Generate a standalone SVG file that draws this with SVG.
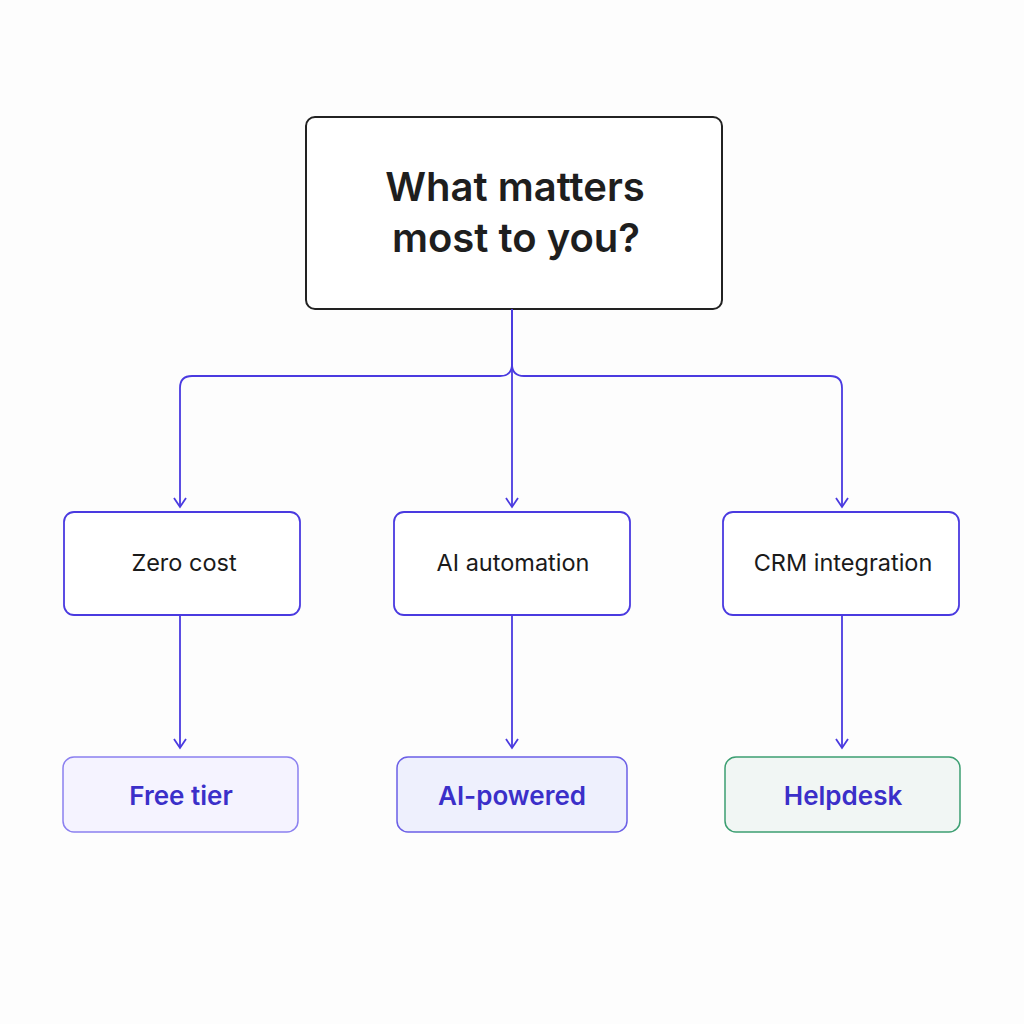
<svg xmlns="http://www.w3.org/2000/svg" width="1024" height="1024" viewBox="0 0 1024 1024">
<defs>
<marker id="arr" markerWidth="14" markerHeight="14" refX="11" refY="7" orient="auto" markerUnits="userSpaceOnUse" viewBox="0 0 14 14">
<path d="M2,1 L11,7 L2,13" fill="none" stroke="#4a3ae0" stroke-width="1.8"/>
</marker>
</defs>
<style>
.conn{fill:none;stroke:#4a3ae0;stroke-width:1.8}
.mid{fill:#ffffff;stroke:#4a3ae0;stroke-width:1.8}
.midt{font-family:Inter,"Liberation Sans",sans-serif;font-size:23.5px;fill:#1a1a1a;text-anchor:middle}
.bott{font-family:Inter,"Liberation Sans",sans-serif;font-size:26px;font-weight:600;fill:#3b2fc9;text-anchor:middle}
</style>
<rect width="1024" height="1024" fill="#fdfdfd"/>
<g id="root">
<rect x="306" y="117" width="416" height="192" rx="9" fill="#ffffff" stroke="#222222" stroke-width="2"/>
<text x="515" y="201" font-family="Inter,'Liberation Sans',sans-serif" font-size="40" font-weight="600" fill="#1e1e1e" text-anchor="middle">What matters</text>
<text x="516" y="252" font-family="Inter,'Liberation Sans',sans-serif" font-size="40" font-weight="600" fill="#1e1e1e" text-anchor="middle">most to you?</text>
</g>
<g id="connectors">
<path class="conn" d="M512,309 V364 Q512,376 500,376 H192 Q180,376 180,388 V507" marker-end="url(#arr)"/>
<path class="conn" d="M512,364 Q512,376 524,376 H830 Q842,376 842,388 V507" marker-end="url(#arr)"/>
<path class="conn" d="M512,309 V507" marker-end="url(#arr)"/>
<path class="conn" d="M180,615 V748" marker-end="url(#arr)"/>
<path class="conn" d="M512,615 V748" marker-end="url(#arr)"/>
<path class="conn" d="M842,615 V748" marker-end="url(#arr)"/>
</g>
<g id="zero-cost">
<rect class="mid" x="64" y="512" width="236" height="103" rx="10"/>
<text class="midt" x="184" y="571">Zero cost</text>
</g>
<g id="ai-automation">
<rect class="mid" x="394" y="512" width="236" height="103" rx="10"/>
<text class="midt" x="513" y="571">AI automation</text>
</g>
<g id="crm-integration">
<rect class="mid" x="723" y="512" width="236" height="103" rx="10"/>
<text class="midt" x="843" y="571">CRM integration</text>
</g>
<g id="free-tier">
<rect x="63" y="757" width="235" height="75" rx="11" fill="#f5f3ff" stroke="#8b80f0" stroke-width="1.5"/>
<text class="bott" x="181" y="805">Free tier</text>
</g>
<g id="ai-powered">
<rect x="397" y="757" width="230" height="75" rx="11" fill="#eef0fd" stroke="#6b5fe6" stroke-width="1.5"/>
<text class="bott" x="512" y="805">AI-powered</text>
</g>
<g id="helpdesk">
<rect x="725" y="757" width="235" height="75" rx="11" fill="#f1f6f4" stroke="#3c9f72" stroke-width="1.5"/>
<text class="bott" x="843" y="805">Helpdesk</text>
</g>
</svg>
